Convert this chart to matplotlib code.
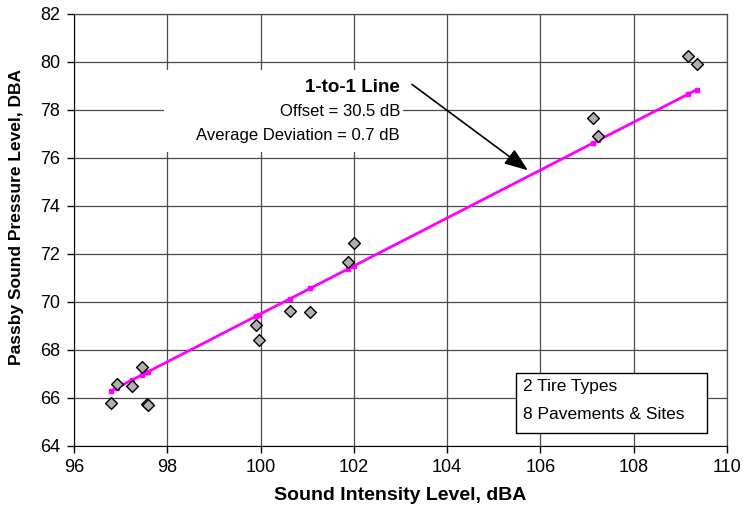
import matplotlib
matplotlib.use("Agg")
from matplotlib import pyplot as plt
from matplotlib.patches import Rectangle

plt.rcParams['font.family'] = ['Liberation Sans', 'DejaVu Sans']

# Sound intensity level (x) vs passby sound pressure level (y)
sil = [96.79, 96.92, 97.24, 97.46, 97.57, 97.58,
       99.90, 99.96, 100.63, 101.07, 101.87, 102.00,
       107.13, 107.24, 109.17, 109.36]
spl = [65.79, 66.57, 66.47, 67.28, 65.74, 65.68,
       69.03, 68.39, 69.62, 69.56, 71.64, 72.43,
       77.65, 76.90, 80.26, 79.93]
# 1-to-1 line (offset 30.5 dB), read at each measured x
line_y = [66.28, 66.41, 66.73, 66.95, 67.06, 67.07,
          69.39, 69.45, 70.12, 70.56, 71.36, 71.49,
          76.62, 76.73, 78.66, 78.85]

xticks = [96, 98, 100, 102, 104, 106, 108, 110]
yticks = [64, 66, 68, 70, 72, 74, 76, 78, 80, 82]

fig = plt.figure(figsize=(7.43, 5.14), dpi=100)
ax = fig.add_axes([74/743, 1-445.5/514, (727-74)/743, (445.5-14)/514])

ax.set_xlim(96, 110)
ax.set_ylim(64, 82)
ax.set_xticks(xticks)
ax.set_yticks(yticks)
ax.grid(True, color="#4a4a4a", linewidth=0.9, zorder=0)
ax.set_axisbelow(True)
ax.tick_params(direction="out", length=5, width=1, labelsize=13, pad=5)
for s in ["top", "right"]:
    ax.spines[s].set_color("#4a4a4a")
    ax.spines[s].set_linewidth(0.9)

# white panel behind the annotation text
ax.add_patch(Rectangle((97.94, 76.24), 103.05-97.94, 79.66-76.24,
                       facecolor="white", edgecolor="none", zorder=1))

ax.plot(sil, line_y, color="#FF00FF", linewidth=2, marker="s",
        markersize=3.5, zorder=3)
ax.scatter(sil, spl, marker="D", s=36, facecolor="#B0B0B0",
           edgecolor="black", linewidths=1, zorder=4)

ax.text(102.99, 78.95, "1-to-1 Line", ha="right", va="center",
        fontsize=13.5, fontweight="bold", zorder=5)
ax.text(102.99, 77.92, "Offset = 30.5 dB", ha="right", va="center",
        fontsize=12, zorder=5)
ax.text(102.99, 76.95, "Average Deviation = 0.7 dB", ha="right",
        va="center", fontsize=12, zorder=5)
ax.annotate("", xy=(105.78, 75.41), xytext=(103.2, 79.13),
            arrowprops=dict(arrowstyle="-|>,head_length=0.8,head_width=0.3",
                            color="black", lw=1.2, mutation_scale=18),
            zorder=5)

ax.add_patch(Rectangle((105.48, 64.53), 109.58-105.48, 67.03-64.53,
                       facecolor="white", edgecolor="black", linewidth=1,
                       zorder=5))
ax.text(105.63, 66.47, "2 Tire Types", ha="left", va="center",
        fontsize=12.5, zorder=6)
ax.text(105.63, 65.3, "8 Pavements & Sites", ha="left", va="center",
        fontsize=12.5, zorder=6)

ax.set_xlabel("Sound Intensity Level, dBA", fontsize=14,
              fontweight="bold", labelpad=8)
ax.set_ylabel("Passby Sound Pressure Level, DBA", fontsize=12.5,
              fontweight="bold")
ax.yaxis.set_label_coords(-0.076, 0.53)

fig.savefig("out.png", dpi=100)
